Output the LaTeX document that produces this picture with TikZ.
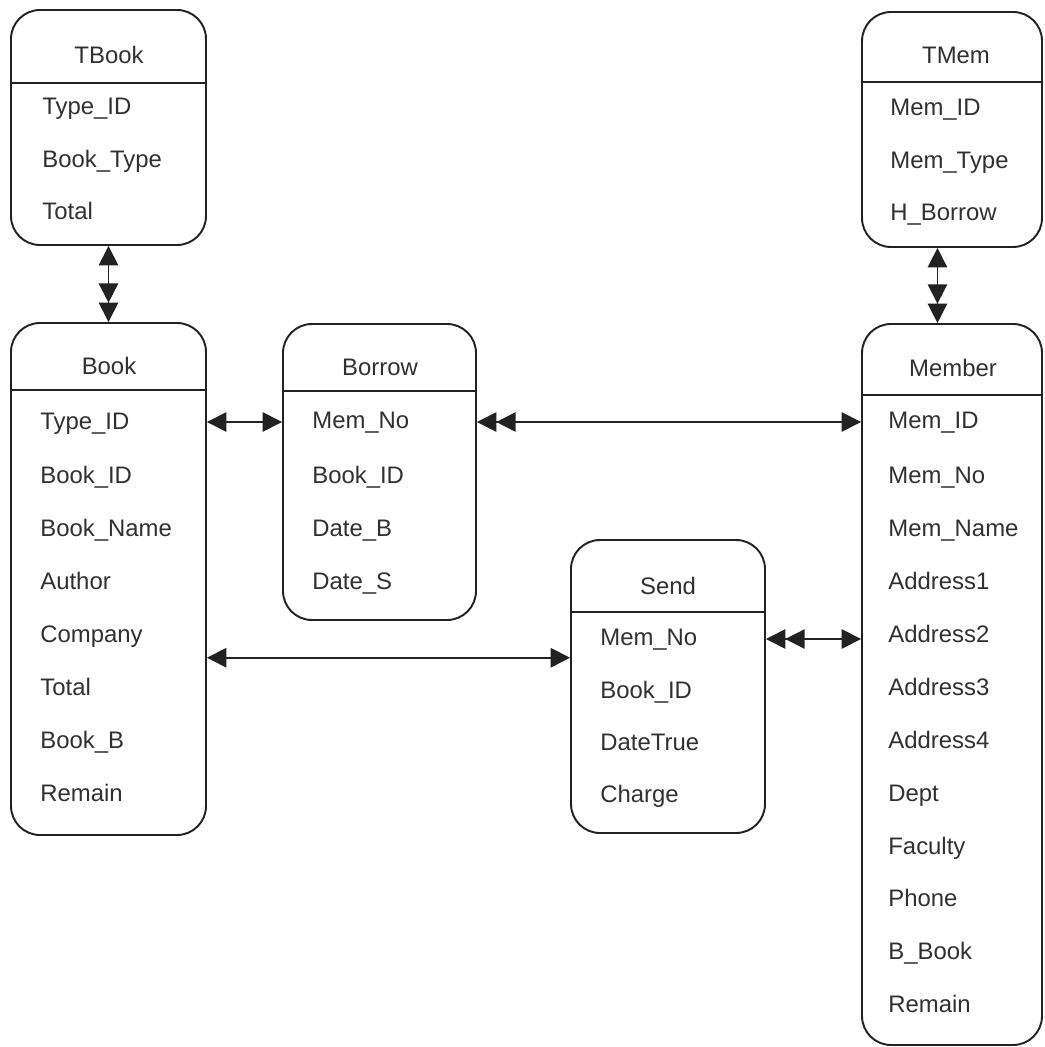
\documentclass[tikz,border=0pt]{standalone}
\usepackage{fontspec}
\setmainfont{Liberation Sans}
\usetikzlibrary{arrows.meta,fit,calc}
\definecolor{ink}{HTML}{222222}
\definecolor{txt}{HTML}{303030}
\tikzset{
  box/.style={draw=ink, line width=1.1pt, rounded corners=0.58cm, inner sep=0pt},
  sepline/.style={draw=ink, line width=1pt},
  row/.style={anchor=west, inner sep=0pt, text height=0.716em, text depth=0pt, text=txt, font=\fontsize{13.6}{16}\selectfont},
  ttl/.style={anchor=center, inner sep=0pt, text height=0.716em, text depth=0pt, text=txt, font=\fontsize{13.6}{16}\selectfont},
  conn/.style={draw=ink, line width=0.9pt},
  one/.style={{Triangle[length=11pt,width=11pt]}-{Triangle[length=11pt,width=11pt]}},
  onetwo/.style={{Triangle[length=11pt,width=11pt]}-{Triangle[length=11pt,width=11pt]Triangle[length=11pt,width=11pt]}},
  twoone/.style={{Triangle[length=11pt,width=11pt]Triangle[length=11pt,width=11pt]}-{Triangle[length=11pt,width=11pt]}},
}
\begin{document}
\begin{tikzpicture}[x=0.02cm,y=-0.02cm]
\useasboundingbox (0,0) rectangle (1044,1047);
% ---------- TBook
\node[box, fit={(11,10)(206,245)}] (tbook) {};
\draw[sepline] (tbook.west |- 0,83) -- (tbook.east |- 0,83);
\node[ttl] (tbookT) at (109,57) {TBook};
\node[row] (tbook1) at (42,108) {Type\_ID};
\node[row] (tbook2) at (42,161) {Book\_Type};
\node[row] (tbook3) at (42,213) {Total};
% ---------- TMem
\node[box, fit={(862,12)(1042,247)}] (tmem) {};
\draw[sepline] (tmem.west |- 0,82) -- (tmem.east |- 0,82);
\node[ttl] (tmemT) at (956,57) {TMem};
\node[row] (tmem1) at (890,109) {Mem\_ID};
\node[row] (tmem2) at (890,162) {Mem\_Type};
\node[row] (tmem3) at (890,214) {H\_Borrow};
% ---------- Book
\node[box, fit={(11,323)(206,835)}] (book) {};
\draw[sepline] (book.west |- 0,390) -- (book.east |- 0,390);
\node[ttl] (bookT) at (109,368) {Book};
\node[row] (book1) at (40,423) {Type\_ID};
\node[row] (book2) at (40,477) {Book\_ID};
\node[row] (book3) at (40,530) {Book\_Name};
\node[row] (book4) at (40,583) {Author};
\node[row] (book5) at (40,636) {Company};
\node[row] (book6) at (40,689) {Total};
\node[row] (book7) at (40,742) {Book\_B};
\node[row] (book8) at (40,795) {Remain};
% ---------- Borrow
\node[box, fit={(283,324)(476,620)}] (borrow) {};
\draw[sepline] (borrow.west |- 0,391) -- (borrow.east |- 0,391);
\node[ttl] (borrowT) at (380,369) {Borrow};
\node[row] (borrow1) at (312,422) {Mem\_No};
\node[row] (borrow2) at (312,477) {Book\_ID};
\node[row] (borrow3) at (312,530) {Date\_B};
\node[row] (borrow4) at (312,583) {Date\_S};
% ---------- Send
\node[box, fit={(571,540)(765,833)}] (send) {};
\draw[sepline] (send.west |- 0,612) -- (send.east |- 0,612);
\node[ttl] (sendT) at (668,588) {Send};
\node[row] (send1) at (600,639) {Mem\_No};
\node[row] (send2) at (600,692) {Book\_ID};
\node[row] (send3) at (600,744) {DateTrue};
\node[row] (send4) at (600,796) {Charge};
% ---------- Member
\node[box, fit={(862,324)(1042,1045)}] (member) {};
\draw[sepline] (member.west |- 0,395) -- (member.east |- 0,395);
\node[ttl] (memberT) at (953,370) {Member};
\node[row] (member1) at (888,422) {Mem\_ID};
\node[row] (member2) at (888,477) {Mem\_No};
\node[row] (member3) at (888,530) {Mem\_Name};
\node[row] (member4) at (888,583) {Address1};
\node[row] (member5) at (888,636) {Address2};
\node[row] (member6) at (888,689) {Address3};
\node[row] (member7) at (888,742) {Address4};
\node[row] (member8) at (888,795) {Dept};
\node[row] (member9) at (888,848) {Faculty};
\node[row] (member10) at (888,900) {Phone};
\node[row] (member11) at (888,953) {B\_Book};
\node[row] (member12) at (888,1006) {Remain};
% ---------- connectors
\draw[conn, onetwo] (tbook.south) -- (book.north);
\coordinate (tmA) at ($(tmem.south west)!0.42!(tmem.south east)$);
\draw[conn, onetwo] (tmA) -- (tmA |- member.north);
\draw[conn, one] (book.east |- borrow1) -- (borrow.west |- borrow1);
\draw[conn, twoone] (borrow.east |- borrow1) -- (member.west |- borrow1);
\coordinate (bs) at ($(book5.west)!0.41!(book6.west)$);
\draw[conn, one] (book.east |- bs) -- (send.west |- bs);
\draw[conn, twoone] (send.east |- send1) -- (member.west |- send1);
\end{tikzpicture}
\end{document}
